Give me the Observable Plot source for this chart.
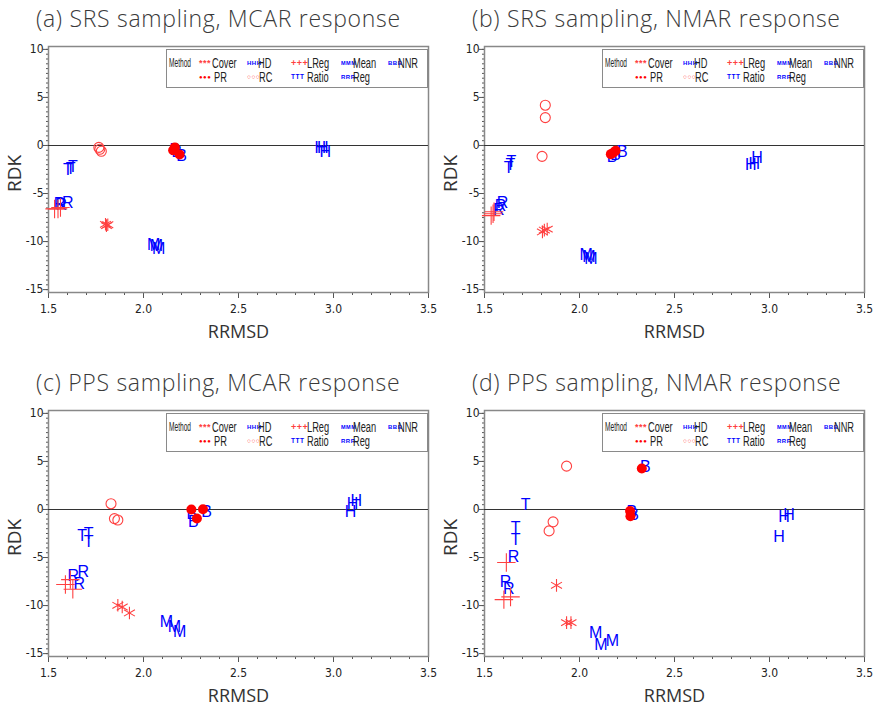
<!DOCTYPE html>
<html><head><meta charset="utf-8">
<script src="https://cdn.jsdelivr.net/npm/d3@7"></script>
<script src="https://cdn.jsdelivr.net/npm/@observablehq/plot@0.6"></script>
<style>
body{margin:0;background:#fff;}
#root{position:relative;width:873px;height:709px;overflow:hidden;background:#fff;}
.panel{position:absolute;width:436px;height:345px;}
.panel svg{position:absolute;left:0;top:38px;}
.title{position:absolute;left:36px;top:3px;font-family:"Open Sans",sans-serif;font-size:23px;font-weight:300;color:#3a3a3a;white-space:nowrap;letter-spacing:0.7px;line-height:30px;}
.legend{position:absolute;left:166px;top:49px;width:262px;height:39px;border:1.5px solid #8a8a8a;background:#fff;box-sizing:border-box;}
.legend span{position:absolute;white-space:nowrap;line-height:14px;transform-origin:left center;}
.lt{font-family:"Liberation Sans",sans-serif;font-size:14px;color:#222;transform:translateY(-50%) scaleX(0.66);}
.lm{font-family:"Liberation Sans",sans-serif;font-size:12px;color:#222;transform:translateY(-50%) scaleX(0.55);}
.ls{font-family:"Liberation Sans",sans-serif;font-weight:bold;transform:translateY(-50%);}
</style>
</head><body><div id="root"></div>
<script>
// ---- data ----
const titles = ["(a) SRS sampling, MCAR response","(b) SRS sampling, NMAR response","(c) PPS sampling, MCAR response","(d) PPS sampling, NMAR response"];
const methods = ["Cover","HD","LReg","Mean","NNR","PR","RC","Ratio","Reg"];
// method of each plotted point (same order in every panel)
const pointMethod = ["Cover","Cover","Cover","PR","PR","PR","HD","HD","HD","RC","RC","RC","LReg","LReg","LReg","Ratio","Ratio","Ratio","Mean","Mean","Mean","Reg","Reg","Reg","NNR","NNR","NNR"];
const rrmsdA = [1.800,1.805,1.812, 2.156,2.165,2.190, 2.930,2.944,2.957, 1.765,1.770,1.778, 1.532,1.550,1.563, 1.602,1.616,1.628, 2.054,2.068,2.080, 1.558,1.567,1.602, 2.165,2.175,2.200];
const rdkA   = [-8.2,-8.35,-8.25, -0.5,-0.2,-0.93, -0.3,-0.3,-0.7, -0.2,-0.4,-0.6, -6.6,-6.6,-6.45, -2.5,-2.4,-2.2, -10.3,-10.45,-10.75, -6.07,-6.2,-5.94, -0.5,-0.7,-1.05];
const rrmsdB = [1.805,1.815,1.830, 2.165,2.178,2.190, 2.902,2.920,2.934, 1.820,1.820,1.803, 1.535,1.545,1.550, 1.627,1.636,1.641, 2.035,2.050,2.060, 1.575,1.585,1.595, 2.172,2.190,2.225];
const rdkB   = [-9.0,-8.8,-8.7, -0.9,-0.75,-0.55, -2.06,-1.9,-1.3, 4.19,2.9,-1.13, -7.3,-7.1,-6.9, -2.3,-2.0,-1.7, -11.4,-11.55,-11.8, -6.7,-6.3,-6.0, -1.2,-1.0,-0.7];
const rrmsdC = [1.865,1.888,1.926, 2.252,2.281,2.313, 3.090,3.100,3.120, 1.829,1.847,1.865, 1.589,1.615,1.628, 1.677,1.711,1.711, 2.120,2.163,2.190, 1.630,1.683,1.662, 2.255,2.262,2.332];
const rdkC   = [-9.97,-10.15,-10.77, 0.0,-0.94,0.03, -0.3,0.6,0.85, 0.6,-0.95,-1.1, -7.8,-7.3,-8.3, -2.7,-2.5,-3.4, -11.7,-12.2,-12.75, -6.95,-6.5,-7.78, -0.5,-1.3,-0.25];
const rrmsdD = [1.879,1.932,1.955, 2.328,2.266,2.268, 3.050,3.077,3.103, 1.932,1.861,1.840, 1.615,1.602,1.637, 1.717,1.664,1.664, 2.085,2.113,2.173, 1.653,1.611,1.628, 2.346,2.284,2.275];
const rdkD   = [-7.89,-11.77,-11.77, 4.27,-0.15,-0.7, -2.85,-0.77,-0.6, 4.51,-1.29,-2.23, -5.52,-9.38,-9.1, 0.45,-1.88,-3.2, -12.8,-14.06,-13.7, -4.94,-7.54,-8.23, 4.44,-0.6,-0.3];
const xTicks = [1.5,2.0,2.5,3.0,3.5];
const yTicks = [-15,-10,-5,0,5,10];
const xLabel = "RRMSD", yLabel = "RDK", legendTitle = "Method";

// ---- style ----
const BLUE = "#0000ff", RED = "#ff0000", LRED = "#ff4040";
const letter = {HD:"H", Mean:"M", Ratio:"T", Reg:"R", NNR:"B"};
const legendSym = {Cover:["***",9,LRED], HD:["HHH",6,BLUE], LReg:["+++",9,LRED], Mean:["MMM",5.5,BLUE], NNR:["BBB",6,BLUE],
                   PR:["●●●",6,RED], RC:["○○○",6.5,LRED], Ratio:["TTT",6.5,BLUE], Reg:["RRR",6,BLUE]};
const legendPos = {Cover:[32,45,0], HD:[80,91,0], LReg:[124,140,0], Mean:[174,186,0], NNR:[221,231,0],
                   PR:[32,47,1], RC:[80,92,1], Ratio:[124,140,1], Reg:[174,186,1]};
const xMinor = d3.range(15,36).map(v=>v/10);
const yMinor = d3.range(-30,21).map(v=>v/2);

const root = document.getElementById("root");
const sets = [[rrmsdA,rdkA],[rrmsdB,rdkB],[rrmsdC,rdkC],[rrmsdD,rdkD]];
const tickFont = "Liberation Sans Narrow, DejaVu Sans Condensed, Liberation Sans, sans-serif";

sets.forEach(([xs,ys],k)=>{
  const panel = document.createElement("div");
  panel.className = "panel";
  panel.style.left = (k%2? 436:0)+"px";
  panel.style.top = (k<2? 0:364)+"px";
  const t = document.createElement("div");
  t.className = "title"; t.textContent = titles[k];
  panel.appendChild(t);

  const data = pointMethod.map((m,i)=>({method:m, x:xs[i], y:ys[i]}));
  const letters = data.filter(d=>letter[d.method]).sort((a,b)=>(a.method==="NNR"?0:1)-(b.method==="NNR"?0:1));
  const chart = Plot.plot({
    width: 436, height: 307,
    marginLeft: 48, marginRight: 8, marginTop: 8, marginBottom: 53,
    x: {domain:[1.5,3.5], label:null},
    y: {domain:[-15.3,10.3], label:null},
    style: {background:"transparent", overflow:"visible"},
    marks: [
      Plot.axisX({ticks:xMinor, tickSize:3, tickFormat:()=>"", stroke:"#555", label:null}),
      Plot.axisX({ticks:xTicks, tickSize:6, tickPadding:6, tickFormat:d=>d.toFixed(1), stroke:"#555", fill:"#222", fontSize:12, fontFamily:tickFont, label:null}),
      Plot.axisY({ticks:yMinor, tickSize:2, tickFormat:()=>"", stroke:"#555", label:null}),
      Plot.axisY({ticks:yTicks, tickSize:5, tickPadding:0, tickFormat:d=>String(d), stroke:"#555", fill:"#222", fontSize:12, fontFamily:tickFont, label:null}),
      Plot.frame({stroke:"#888", strokeWidth:1.5}),
      Plot.ruleY([0], {stroke:"#333", strokeWidth:1.2}),
      Plot.text(letters, {x:"x", y:"y", text:d=>letter[d.method], fill:BLUE, fontSize:16, fontFamily:"Liberation Sans, sans-serif"}),
      Plot.dot(data.filter(d=>d.method==="RC"), {x:"x", y:"y", symbol:"circle", r:5, stroke:LRED, strokeWidth:1.1, fill:"none"}),
      Plot.dot(data.filter(d=>d.method==="LReg"), {x:"x", y:"y", symbol:"plus", r:6, stroke:LRED, strokeWidth:1.1}),
      Plot.dot(data.filter(d=>d.method==="Cover"), {x:"x", y:"y", symbol:"asterisk", r:6, stroke:LRED, strokeWidth:1.1}),
      Plot.dot(data.filter(d=>d.method==="PR"), {x:"x", y:"y", symbol:"circle", r:5, fill:RED, stroke:"none"}),
      Plot.text([xLabel], {text:d=>d, frameAnchor:"bottom", textAnchor:"middle", lineAnchor:"middle", dy:40, fontSize:18, fill:"#333", fontFamily:"Open Sans, sans-serif"}),
      Plot.text([yLabel], {text:d=>d, frameAnchor:"left", textAnchor:"middle", lineAnchor:"middle", rotate:-90, dx:-34, dy:4, fontSize:19, fill:"#333", fontFamily:"Open Sans, sans-serif"})
    ]
  });
  panel.appendChild(chart);

  const lg = document.createElement("div");
  lg.className = "legend";
  const mt = document.createElement("span");
  mt.className = "lm"; mt.textContent = legendTitle;
  mt.style.left = "2px"; mt.style.top = "12.5px";
  lg.appendChild(mt);
  methods.forEach(m=>{
    const [sx,tx,row] = legendPos[m];
    const [sym,fs,col] = legendSym[m];
    const cy = row? 27 : 12.5;
    const s = document.createElement("span");
    s.className = "ls"; s.textContent = sym;
    s.style.left = sx+"px"; s.style.top = cy+"px"; s.style.fontSize = fs+"px"; s.style.color = col;
    s.style.letterSpacing = "0.5px";
    lg.appendChild(s);
    const l = document.createElement("span");
    l.className = "lt"; l.textContent = m;
    l.style.left = tx+"px"; l.style.top = cy+"px";
    lg.appendChild(l);
  });
  panel.appendChild(lg);
  root.appendChild(panel);
});
</script>
</body></html>
